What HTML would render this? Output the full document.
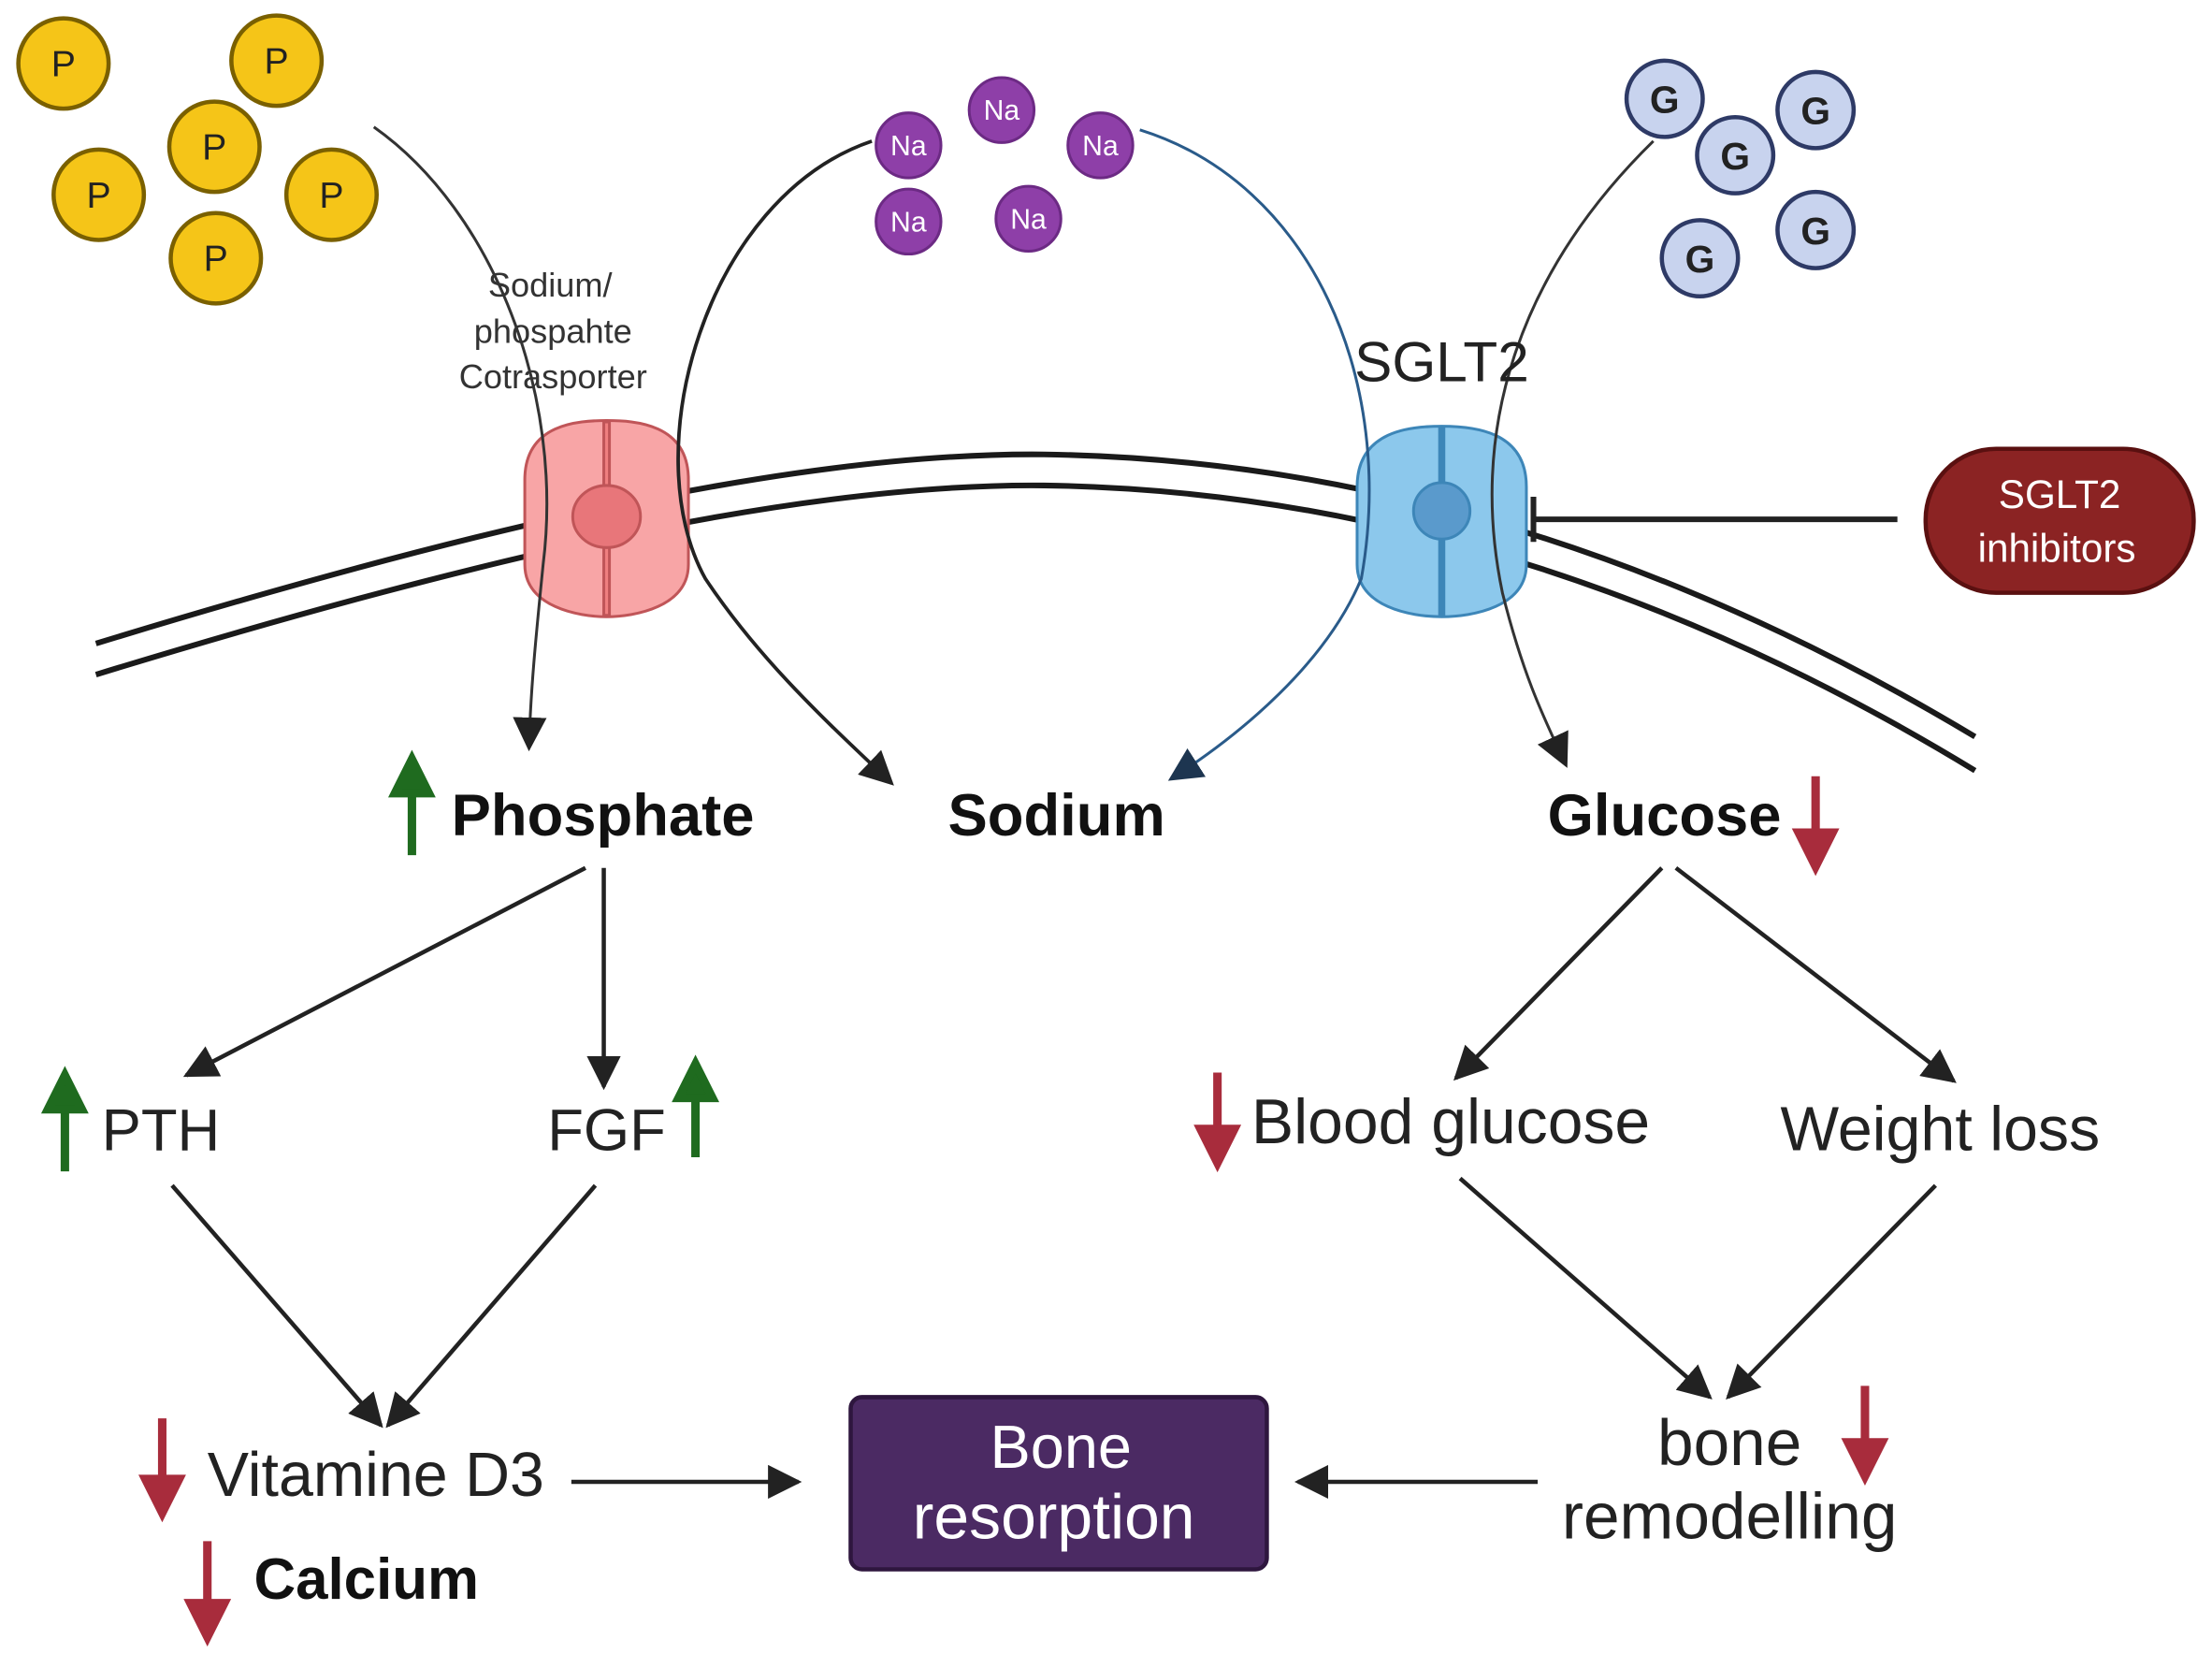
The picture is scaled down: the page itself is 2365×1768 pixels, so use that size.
<!DOCTYPE html>
<html><head><meta charset="utf-8"><style>
html,body{margin:0;padding:0;background:#fff}
svg{display:block}
text{font-family:"Liberation Sans",sans-serif}
</style></head><body>
<svg width="2365" height="1768" viewBox="0 0 1568 1172" preserveAspectRatio="none" xmlns="http://www.w3.org/2000/svg">
<defs>
<marker id="a" viewBox="0 0 10 10" refX="9" refY="5" markerWidth="24" markerHeight="24" markerUnits="userSpaceOnUse" orient="auto"><path d="M0,0 L10,5 L0,10 z" fill="#222"/></marker>
<marker id="ab" viewBox="0 0 10 10" refX="9" refY="5" markerWidth="24" markerHeight="24" markerUnits="userSpaceOnUse" orient="auto"><path d="M0,0 L10,5 L0,10 z" fill="#1d3550"/></marker>
</defs>
<rect width="1568" height="1172" fill="#fff"/>
<!-- membrane -->
<path d="M68,456 C 300,385 550,320 740,322 C 960,325 1180,390 1400,522" fill="none" stroke="#1a1a1a" stroke-width="4"/>
<path d="M68,478 C 300,407 550,342 740,344 C 960,347 1180,412 1400,546" fill="none" stroke="#1a1a1a" stroke-width="4"/>
<!-- molecules P -->
<g fill="#f5c518" stroke="#7a6000" stroke-width="3">
<circle cx="45" cy="45" r="32"/><circle cx="196" cy="43" r="32"/><circle cx="152" cy="104" r="32"/>
<circle cx="70" cy="138" r="32"/><circle cx="235" cy="138" r="32"/><circle cx="153" cy="183" r="32"/>
</g>
<g font-size="26" text-anchor="middle" fill="#222">
<text x="45" y="54">P</text><text x="196" y="52">P</text><text x="152" y="113">P</text>
<text x="70" y="147">P</text><text x="235" y="147">P</text><text x="153" y="192">P</text>
</g>
<!-- Na -->
<g fill="#8e3fa8" stroke="#6c2a84" stroke-width="2">
<circle cx="710" cy="78" r="23"/><circle cx="644" cy="103" r="23"/><circle cx="780" cy="103" r="23"/>
<circle cx="644" cy="157" r="23"/><circle cx="729" cy="155" r="23"/>
</g>
<g font-size="20" text-anchor="middle" fill="#fff">
<text x="710" y="85">Na</text><text x="644" y="110">Na</text><text x="780" y="110">Na</text>
<text x="644" y="164">Na</text><text x="729" y="162">Na</text>
</g>
<!-- G -->
<g fill="#c8d3ee" stroke="#2e3a66" stroke-width="3">
<circle cx="1180" cy="70" r="27"/><circle cx="1287" cy="78" r="27"/><circle cx="1230" cy="110" r="27"/>
<circle cx="1287" cy="163" r="27"/><circle cx="1205" cy="183" r="27"/>
</g>
<g font-size="27" font-weight="bold" text-anchor="middle" fill="#222">
<text x="1180" y="80">G</text><text x="1287" y="88">G</text><text x="1230" y="120">G</text>
<text x="1287" y="173">G</text><text x="1205" y="193">G</text>
</g>
<!-- channels -->
<g>
<path d="M372,340 C 372,300 410,298 430,298 C 450,298 488,300 488,340 L488,400 C 488,430 450,437 430,437 C 410,437 372,430 372,400 Z" fill="#f8a5a6" stroke="#c05558" stroke-width="2"/>
<line x1="430" y1="298" x2="430" y2="437" stroke="#c05558" stroke-width="6"/>
<line x1="430" y1="300" x2="430" y2="435" stroke="#f08080" stroke-width="2"/>
<ellipse cx="430" cy="366" rx="24" ry="22" fill="#e8767a" stroke="#c05558" stroke-width="2"/>
</g>
<g>
<path d="M962,345 C 962,305 1000,302 1022,302 C 1044,302 1082,305 1082,345 L1082,400 C 1082,430 1044,437 1022,437 C 1000,437 962,430 962,400 Z" fill="#8cc8ec" stroke="#3d86b8" stroke-width="2"/>
<line x1="1022" y1="302" x2="1022" y2="437" stroke="#3d86b8" stroke-width="5"/>
<ellipse cx="1022" cy="362" rx="20" ry="20" fill="#5a9acc" stroke="#3d86b8" stroke-width="2"/>
</g>
<!-- transport lines (over channels) -->
<path d="M265,90 C 350,150 400,280 385,400 C 380,450 376,490 375,530" fill="none" stroke="#333" stroke-width="2" marker-end="url(#a)"/>
<path d="M618,100 C 500,140 450,320 500,410 C 540,470 590,515 632,555" fill="none" stroke="#222" stroke-width="2.5" marker-end="url(#a)"/>
<path d="M808,92 C 930,130 990,270 965,410 C 940,470 880,520 830,552" fill="none" stroke="#2a5b8a" stroke-width="2" marker-end="url(#ab)"/>
<path d="M1172,100 C 1080,190 1040,300 1065,420 C 1080,480 1095,510 1110,542" fill="none" stroke="#333" stroke-width="2" marker-end="url(#a)"/>
<!-- inhibition -->
<line x1="1345" y1="368" x2="1087" y2="368" stroke="#222" stroke-width="4"/>
<line x1="1087" y1="352" x2="1087" y2="384" stroke="#222" stroke-width="4"/>
<rect x="1365" y="318" width="190" height="102" rx="50" fill="#8b2323" stroke="#5a1010" stroke-width="3"/>
<text x="1460" y="360" font-size="28" text-anchor="middle" fill="#fff">SGLT2</text>
<text x="1458" y="398" font-size="28" text-anchor="middle" fill="#fff">inhibitors</text>
<!-- labels -->
<g font-size="24" text-anchor="middle" fill="#333">
<text x="390" y="210">Sodium/</text><text x="392" y="243">phospahte</text><text x="392" y="275">Cotrasporter</text>
</g>
<text x="1022" y="270" font-size="40" text-anchor="middle" fill="#222">SGLT2</text>
<g font-size="42" font-weight="bold" fill="#111">
<text x="320" y="592">Phosphate</text><text x="672" y="592">Sodium</text><text x="1097" y="592">Glucose</text>
</g>
<!-- up/down arrows -->
<g stroke-width="6">
<g stroke="#1f6b1f" fill="#1f6b1f">
<line x1="292" y1="606" x2="292" y2="560"/><path d="M280,562 L292,538 L304,562 Z"/>
<line x1="46" y1="830" x2="46" y2="784"/><path d="M34,786 L46,762 L58,786 Z"/>
<line x1="493" y1="820" x2="493" y2="776"/><path d="M481,778 L493,754 L505,778 Z"/>
</g>
<g stroke="#a82c3c" fill="#a82c3c">
<line x1="1287" y1="550" x2="1287" y2="592"/><path d="M1275,590 L1287,614 L1299,590 Z"/>
<line x1="863" y1="760" x2="863" y2="802"/><path d="M851,800 L863,824 L875,800 Z"/>
<line x1="1322" y1="982" x2="1322" y2="1024"/><path d="M1310,1022 L1322,1046 L1334,1022 Z"/>
<line x1="115" y1="1005" x2="115" y2="1050"/><path d="M103,1048 L115,1072 L127,1048 Z"/>
<line x1="147" y1="1092" x2="147" y2="1138"/><path d="M135,1136 L147,1160 L159,1136 Z"/>
</g>
</g>
<!-- flow arrows -->
<g stroke="#222" stroke-width="3" fill="none" marker-end="url(#a)">
<line x1="428" y1="615" x2="428" y2="770"/>
<line x1="415" y1="615" x2="132" y2="762"/>
<line x1="1178" y1="615" x2="1032" y2="764"/>
<line x1="1188" y1="615" x2="1385" y2="766"/>
<line x1="122" y1="840" x2="270" y2="1010"/>
<line x1="422" y1="840" x2="275" y2="1010"/>
<line x1="1035" y1="835" x2="1212" y2="990"/>
<line x1="1372" y1="840" x2="1225" y2="990"/>
<line x1="405" y1="1050" x2="566" y2="1050"/>
<line x1="1090" y1="1050" x2="920" y2="1050"/>
</g>
<g fill="#222">
<text x="72" y="815" font-size="42">PTH</text><text x="388" y="815" font-size="42">FGF</text>
<text x="887" y="810" font-size="45">Blood glucose</text><text x="1262" y="815" font-size="44">Weight loss</text>
<text x="147" y="1060" font-size="44">Vitamine D3</text>
<text x="1226" y="1038" text-anchor="middle" font-size="46">bone</text>
<text x="1226" y="1090" text-anchor="middle" font-size="46">remodelling</text>
</g>
<text x="180" y="1133" font-size="41" font-weight="bold" fill="#111">Calcium</text>
<rect x="603" y="990" width="295" height="122" rx="8" fill="#4b2a63" stroke="#2e163e" stroke-width="3"/>
<text x="752" y="1040" font-size="43" text-anchor="middle" fill="#fff">Bone</text>
<text x="747" y="1090" font-size="45" text-anchor="middle" fill="#fff">resorption</text>
</svg>
</body></html>
